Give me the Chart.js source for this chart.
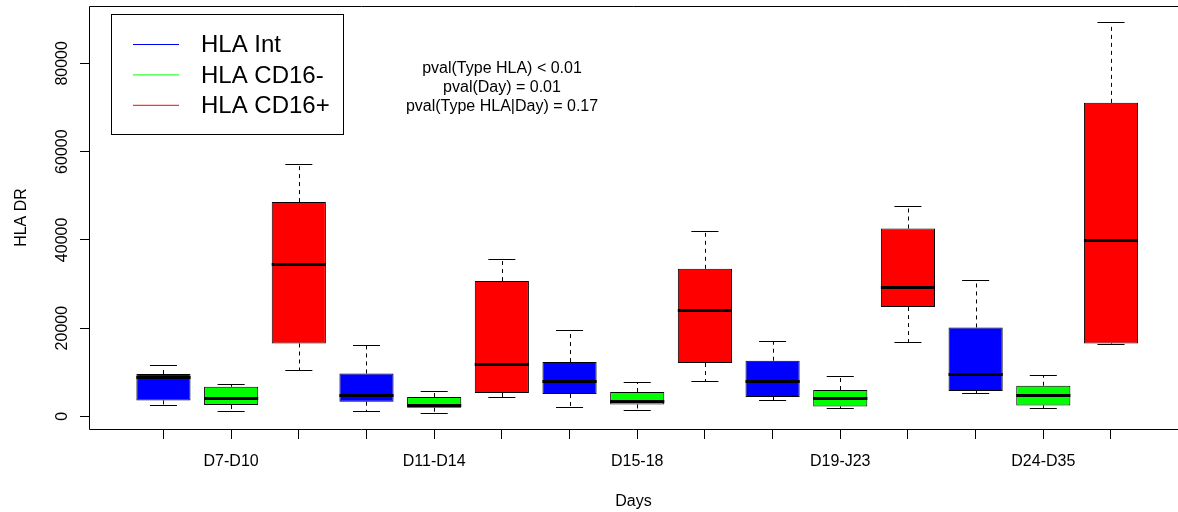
<!DOCTYPE html>
<html>
<head>
<meta charset="utf-8">
<script src="https://cdn.jsdelivr.net/npm/chart.js@4.4.1/dist/chart.umd.min.js"></script>
<style>
  html, body { margin: 0; padding: 0; background: #fff; overflow: hidden; }
</style>
</head>
<body>
<canvas id="chart" width="1178" height="512"></canvas>
<script>
const categories = ["D7-D10", "D11-D14", "D15-18", "D19-J23", "D24-D35"];
const seriesNames = ["HLA Int", "HLA CD16-", "HLA CD16+"];
const seriesColors = ["#0000FF", "#00FF00", "#FF0000"];
const yTicks = [0, 20000, 40000, 60000, 80000];
const pvalLines = ["pval(Type HLA) < 0.01", "pval(Day) = 0.01", "pval(Type HLA|Day) = 0.17"];

// HLA Int
const intMin = [2490, 1290, 2040, 3620, 5300];
const intQ1 = [3620, 3330, 5070, 4390, 5750];
const intMed = [8830, 4850, 7930, 7930, 9510];
const intQ3 = [9600, 9740, 12320, 12620, 20160];
const intMax = [11640, 16080, 19640, 17150, 30960];

// HLA CD16-
const negMin = [1290, 840, 1520, 1970, 1970];
const negQ1 = [2580, 1970, 2720, 2270, 2490];
const negMed = [4240, 2650, 3490, 4170, 4850];
const negQ3 = [6730, 4390, 5530, 5980, 6950];
const negMax = [7410, 5750, 7860, 9060, 9290];

// HLA CD16+
const posMin = [10500, 4390, 8090, 16850, 16300];
const posQ1 = [16530, 5300, 12100, 24780, 16530];
const posMed = [34500, 11870, 24100, 29310, 39950];
const posQ3 = [48560, 30670, 33450, 42580, 71050];
const posMax = [57240, 35650, 42060, 47570, 89400];

const stats = [
  { min: intMin, q1: intQ1, med: intMed, q3: intQ3, max: intMax },
  { min: negMin, q1: negQ1, med: negMed, q3: negQ3, max: negMax },
  { min: posMin, q1: posQ1, med: posMed, q3: posQ3, max: posMax },
];

// box slot on the x axis: 3 boxes per day group
const slot = (g, s) => g * 3 + s + 1;
const slots = categories.flatMap((c, g) => seriesNames.map((n, s) => slot(g, s)));

const FONT = "'Liberation Sans', Arial, sans-serif";

const datasets = seriesNames.map((name, s) => ({
  label: name,
  data: categories.map((c, g) => ({ x: slot(g, s), y: [stats[s].q1[g], stats[s].q3[g]] })),
  backgroundColor: seriesColors[s],
  borderColor: "#000",
  borderWidth: 1,
  borderSkipped: false,
  grouped: false,
  barPercentage: 0.8,
  categoryPercentage: 1,
}));

const boxExtras = {
  id: "boxExtras",
  beforeDatasetsDraw(chart) {
    const ctx = chart.ctx;
    const y = chart.scales.y;
    ctx.save();
    ctx.strokeStyle = "#000";
    ctx.lineWidth = 1;
    chart.data.datasets.forEach((ds, s) => {
      chart.getDatasetMeta(s).data.forEach((bar, g) => {
        const { x, width } = bar.getProps(["x", "width"], true);
        const cx = Math.round(x) + 0.5;
        const hi = Math.round(y.getPixelForValue(stats[s].max[g])) + 0.5;
        const lo = Math.round(y.getPixelForValue(stats[s].min[g])) + 0.5;
        const top = y.getPixelForValue(stats[s].q3[g]);
        const bot = y.getPixelForValue(stats[s].q1[g]);
        ctx.setLineDash([4, 4]);
        ctx.beginPath();
        ctx.moveTo(cx, top); ctx.lineTo(cx, hi);
        ctx.moveTo(cx, bot); ctx.lineTo(cx, lo);
        ctx.stroke();
        ctx.setLineDash([]);
        ctx.beginPath();
        ctx.moveTo(x - width / 4, hi); ctx.lineTo(x + width / 4, hi);
        ctx.moveTo(x - width / 4, lo); ctx.lineTo(x + width / 4, lo);
        ctx.stroke();
      });
    });
    ctx.restore();
  },
  afterDatasetsDraw(chart) {
    const ctx = chart.ctx;
    const y = chart.scales.y;
    ctx.save();
    ctx.strokeStyle = "#000";
    ctx.lineWidth = 3;
    chart.data.datasets.forEach((ds, s) => {
      chart.getDatasetMeta(s).data.forEach((bar, g) => {
        const { x, width } = bar.getProps(["x", "width"], true);
        const my = Math.round(y.getPixelForValue(stats[s].med[g])) + 0.5;
        ctx.beginPath();
        ctx.moveTo(x - width / 2, my); ctx.lineTo(x + width / 2, my);
        ctx.stroke();
      });
    });
    ctx.restore();
  },
  afterDraw(chart) {
    const ctx = chart.ctx;
    const a = chart.chartArea;
    ctx.save();
    // plot frame (its right edge lies past the picture)
    const l = Math.round(a.left) + 0.5, t = Math.round(a.top) + 0.5, b = Math.round(a.bottom) + 0.5;
    ctx.strokeStyle = "#000";
    ctx.lineWidth = 1;
    ctx.beginPath();
    ctx.moveTo(chart.width, t); ctx.lineTo(l, t); ctx.lineTo(l, b); ctx.lineTo(chart.width, b);
    ctx.stroke();

    // legend
    ctx.strokeRect(111.5, 14.5, 232, 120);
    ctx.font = "24px " + FONT;
    ctx.textBaseline = "middle";
    ctx.textAlign = "left";
    seriesNames.forEach((name, s) => {
      const ly = 44.5 + s * 30.4;
      ctx.strokeStyle = seriesColors[s];
      ctx.beginPath();
      ctx.moveTo(133, ly); ctx.lineTo(179, ly);
      ctx.stroke();
      ctx.fillStyle = "#000";
      ctx.fillText(name, 201, ly + 1);
    });

    // p-values
    ctx.font = "16px " + FONT;
    ctx.textAlign = "center";
    pvalLines.forEach((t, i) => ctx.fillText(t, 502, 68.5 + i * 19.2));
    ctx.restore();
  },
};

new Chart(document.getElementById("chart"), {
  type: "bar",
  data: { datasets },
  options: {
    responsive: false,
    animation: false,
    devicePixelRatio: 1,
    layout: { padding: { top: 6, right: 0, left: 0, bottom: 0 } },
    plugins: { legend: { display: false }, tooltip: { enabled: false } },
    scales: {
      x: {
        type: "linear",
        min: -0.1,
        max: 15.99,
        offset: false,
        afterBuildTicks: (scale) => { scale.ticks = slots.map((v) => ({ value: v })); },
        afterFit: (scale) => { scale.height = 83; },
        grid: { offset: false, drawOnChartArea: false, drawTicks: true, tickLength: 10, color: "#000" },
        border: { display: false },
        ticks: {
          autoSkip: false,
          maxRotation: 0,
          padding: 13,
          color: "#000",
          font: { family: FONT, size: 16 },
          callback: (v) => (v % 3 === 2 ? categories[(v - 2) / 3] : ""),
        },
        title: { display: true, text: "Days", color: "#000", font: { family: FONT, size: 16 }, padding: { top: 0, bottom: 0.5 } },
      },
      y: {
        type: "linear",
        min: -2850,
        max: 93000,
        afterBuildTicks: (scale) => { scale.ticks = yTicks.map((v) => ({ value: v })); },
        afterFit: (scale) => { scale.width = 89; },
        grid: { drawOnChartArea: false, drawTicks: true, tickLength: 9, color: "#000" },
        border: { display: false },
        ticks: {
          autoSkip: false,
          minRotation: 90,
          maxRotation: 90,
          crossAlign: "center",
          padding: -4.5,
          color: "#000",
          font: { family: FONT, size: 16 },
          callback: (v) => String(v),
        },
        title: { display: true, text: "HLA DR", color: "#000", font: { family: FONT, size: 16 }, padding: { top: 12, bottom: 0 } },
      },
    },
  },
  plugins: [boxExtras],
});
</script>
</body>
</html>
